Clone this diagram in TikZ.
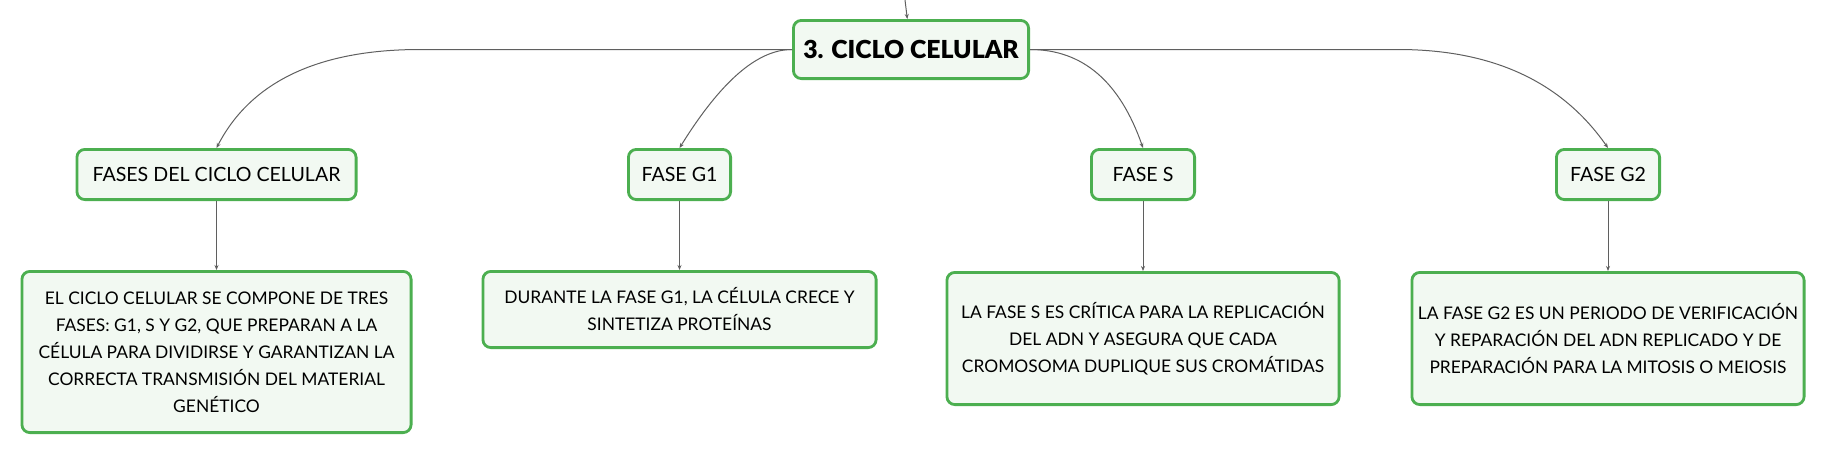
\documentclass[tikz,border=0pt]{standalone}
\usepackage{fontspec}
\setmainfont{Lato}
\newfontfamily\gruesa{Lato Black}
\usetikzlibrary{arrows.meta}
\definecolor{borde}{HTML}{4CAF50}
\definecolor{relleno}{HTML}{F2F9F2}
\definecolor{linea}{HTML}{5F5F5F}
\tikzset{
caja/.style={draw=borde, fill=relleno, line width=1.4pt, rounded corners=4pt, align=center, inner sep=0pt},
tema/.style={caja, minimum width=117.6pt, minimum height=29.1pt, font=\fontsize{12.4}{14}\selectfont\gruesa},
rama/.style={caja, minimum height=25.1pt, font=\fontsize{9.8}{11}\selectfont},
nota/.style={caja, font=\fontsize{8.7}{13.5}\selectfont},
enlace/.style={draw=linea, line width=0.5pt, -{Stealth[length=2.5pt,width=2pt]}}
}

\begin{document}
\begin{tikzpicture}[x=0.5pt,y=-0.5pt]
\useasboundingbox (0,0) rectangle (1821,455);

\coordinate (top) at (905,0);
\node[tema] (ciclo) at (911,49.5) {3. CICLO CELULAR};

\node[rama, minimum width=139.6pt] (fases) at (216.5,174.5) {FASES DEL CICLO CELULAR};
\node[rama, minimum width=51.1pt] (gone) at (679.5,174.5) {FASE G1};
\node[rama, minimum width=51.6pt] (sfase) at (1143,174.5) {FASE S};
\node[rama, minimum width=51.6pt] (gtwo) at (1608,174.5) {FASE G2};

\node[nota, minimum width=194.6pt, minimum height=80.6pt] (tfases) at (216.5,352)
 {EL CICLO CELULAR SE COMPONE DE TRES\\FASES: G1, S Y G2, QUE PREPARAN A LA\\CÉLULA PARA DIVIDIRSE Y GARANTIZAN LA\\CORRECTA TRANSMISIÓN DEL MATERIAL\\GENÉTICO};
\node[nota, minimum width=196.6pt, minimum height=38.1pt] (tgone) at (679.5,309.5)
 {DURANTE LA FASE G1, LA CÉLULA CRECE Y\\SINTETIZA PROTEÍNAS};
\node[nota, minimum width=196.1pt, minimum height=66.1pt] (tsfase) at (1143,338.5)
 {LA FASE S ES CRÍTICA PARA LA REPLICACIÓN\\DEL ADN Y ASEGURA QUE CADA\\CROMOSOMA DUPLIQUE SUS CROMÁTIDAS};
\node[nota, minimum width=196.1pt, minimum height=66.1pt] (tgtwo) at (1608,338.5)
 {LA FASE G2 ES UN PERIODO DE VERIFICACIÓN\\Y REPARACIÓN DEL ADN REPLICADO Y DE\\PREPARACIÓN PARA LA MITOSIS O MEIOSIS};

\draw[enlace] (top) -- (ciclo);
\draw[enlace] (ciclo.west) -- ++(-372,0) .. controls +(-102,0) and +(34,-66) .. (fases.north);
\draw[enlace] (ciclo.west) .. controls +(-35,0) and +(41,-66) .. (gone.north);
\draw[enlace] (ciclo.east) .. controls +(53,0) and +(-23,-66) .. (sfase.north);
\draw[enlace] (ciclo.east) -- ++(368,0) .. controls +(95,0) and +(-46,-66) .. (gtwo.north);

\draw[enlace] (fases) -- (tfases);
\draw[enlace] (gone) -- (tgone);
\draw[enlace] (sfase) -- (tsfase);
\draw[enlace] (gtwo) -- (tgtwo);

\end{tikzpicture}
\end{document}
